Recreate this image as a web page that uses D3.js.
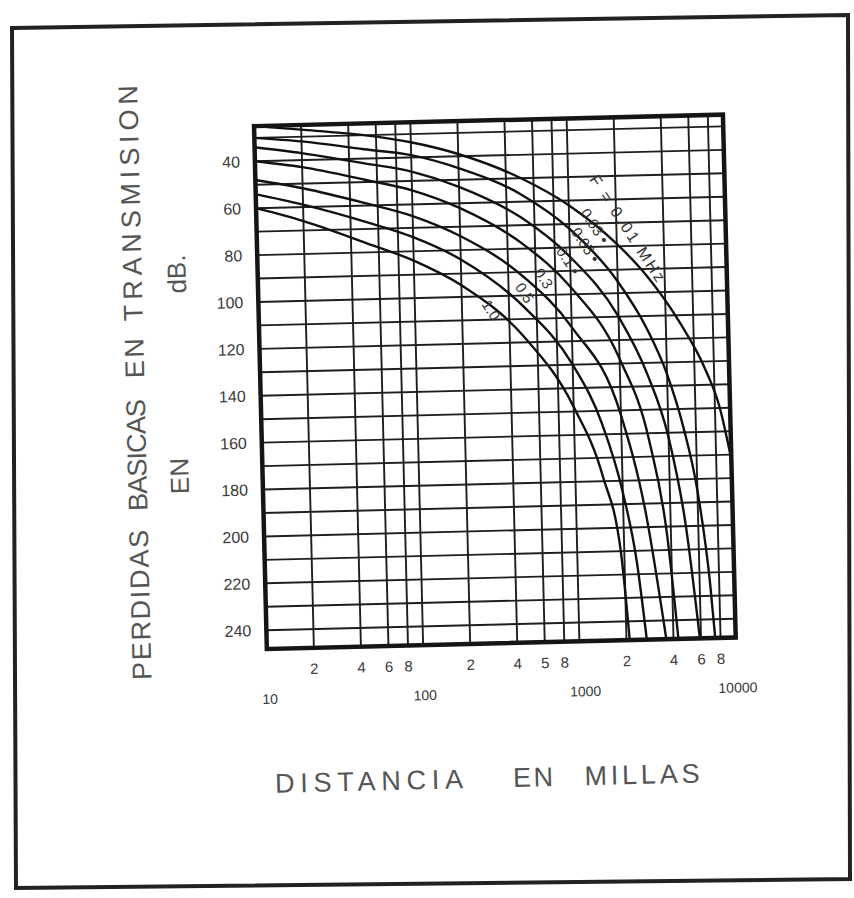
<!DOCTYPE html>
<html><head><meta charset="utf-8">
<script src="https://cdn.jsdelivr.net/npm/d3@7/dist/d3.min.js"></script>
<style>body{margin:0;background:#fff}</style>
</head><body>
<svg id="chart" width="854" height="898"></svg>
<script>
// ---- data ----
const yTickValues = [40, 60, 80, 100, 120, 140, 160, 180, 200, 220, 240];
const yGridValues = [30, 40, 50, 60, 70, 80, 90, 100, 110, 120, 130, 140, 150, 160, 170, 180, 190, 200, 210, 220, 230, 240];
const xDecadeValues = [10, 100, 1000, 10000];
const xDecadeLabels = ["10", "100", "1000", "10000"];
const xMinorValues = [20, 40, 60, 80, 200, 400, 600, 800, 2000, 4000, 6000, 8000];
const xMinorLabels = ["2", "4", "6", "8", "2", "4", "5", "8", "2", "4", "6", "8"];
const xGridValues = [20, 40, 60, 80, 100, 200, 400, 600, 800, 1000, 2000, 4000, 6000, 8000];

const curveNames = ["F = 0.01 MHz", "0.03 \u2022", "0.05 \u2022", "0.1 \u2022", "0.3", "0.5", "1.0"];
const distF001 = [10, 20, 50, 100, 200, 500, 1000, 2000, 3000, 5000, 7000, 8600, 10000];
const lossF001 = [25, 27, 30, 33.5, 39, 50, 62, 79, 92, 114, 133, 150, 172];
const distF003 = [10, 20, 50, 100, 200, 500, 1000, 2000, 3000, 4000, 5000, 6000, 7000, 7400];
const lossF003 = [30, 32, 36, 39, 45, 57, 72, 95, 115, 135, 158, 185, 225, 248];
const distF005 = [10, 20, 50, 100, 200, 500, 1000, 2000, 3000, 4000, 5000, 5900];
const lossF005 = [34, 37, 42, 46, 53, 67, 84, 110, 135, 162, 200, 248];
const distF01 = [10, 20, 50, 100, 200, 500, 1000, 2000, 3000, 3800, 4300];
const lossF01 = [40, 43, 49, 54, 62, 78, 97, 128, 163, 205, 248];
const distF03 = [10, 20, 50, 100, 200, 500, 1000, 2000, 2800, 3600];
const lossF03 = [48, 52, 59, 65, 74, 92, 114, 152, 195, 248];
const distF05 = [10, 20, 50, 100, 200, 500, 1000, 1500, 2000, 2400, 2700];
const lossF05 = [54, 59, 67, 74, 84, 105, 130, 155, 185, 215, 248];
const distF1 = [10, 20, 50, 100, 200, 500, 1000, 1500, 1900, 2100];
const lossF1 = [60, 66, 76, 84, 95, 118, 148, 178, 210, 248];
const curveDists = [distF001, distF003, distF005, distF01, distF03, distF05, distF1];
const curveLosses = [lossF001, lossF003, lossF005, lossF01, lossF03, lossF05, lossF1];
// label anchors (distance, loss) along each curve
const labelDist = [1300, 1130, 980, 780, 560, 420, 255];
const labelLoss = [52, 66, 74, 82, 91, 97, 104];

// ---- layout ----
const svg = d3.select("#chart");
const X0 = 262, X1 = 731, Y0 = 122, Y1 = 645;
const x = d3.scaleLog().domain([10, 10000]).range([X0, X1]);
const y = d3.scaleLinear().domain([25, 248]).range([Y0, Y1]);
const ink = "#1e1e1e";
const tf = "Liberation Sans, Arial, sans-serif";

// outer frame (scanned page border)
svg.append("path")
  .attr("d", "M12,28 L848,15 L850,879 L16,888 Z")
  .attr("fill", "none").attr("stroke", "#222").attr("stroke-width", 4);

const g = svg.append("g").attr("transform", "rotate(-1.4 427 449)");

g.append("clipPath").attr("id", "plotclip")
  .append("rect").attr("x", X0).attr("y", Y0).attr("width", X1 - X0).attr("height", Y1 - Y0);

// grid
const grid = g.append("g").attr("stroke", ink).attr("stroke-width", 1.9);
grid.selectAll("line.h").data(yGridValues).join("line")
  .attr("x1", X0).attr("x2", X1).attr("y1", d => y(d)).attr("y2", d => y(d));
grid.selectAll("line.v").data(xGridValues).join("line")
  .attr("y1", Y0).attr("y2", Y1).attr("x1", d => x(d)).attr("x2", d => x(d));

// curves
const line = d3.line().x(d => x(d[0])).y(d => y(d[1])).curve(d3.curveMonotoneX);
const curves = g.append("g").attr("clip-path", "url(#plotclip)");
curveDists.forEach((ds, i) => {
  const pts = ds.map((d, j) => [d, curveLosses[i][j]]);
  curves.append("path").attr("d", line(pts))
    .attr("fill", "none").attr("stroke", "#111").attr("stroke-width", 2.4);
});

// border
g.append("rect").attr("x", X0).attr("y", Y0).attr("width", X1 - X0).attr("height", Y1 - Y0)
  .attr("fill", "none").attr("stroke", "#151515").attr("stroke-width", 4.5);

// curve labels
curveNames.forEach((name, i) => {
  const px = x(labelDist[i]), py = y(labelLoss[i]);
  const t = g.append("text").attr("transform", `translate(${px},${py}) rotate(58)`)
    .attr("font-family", tf).attr("font-size", i === 0 ? 16 : 15)
    .attr("fill", "#333").attr("dy", "-0.2em").text(name);
  if (i === 0) t.attr("textLength", 124).attr("lengthAdjust", "spacing");
});

// y tick labels
g.selectAll("text.yt").data(yTickValues).join("text")
  .attr("x", X0 - 15).attr("y", d => y(d)).attr("dy", "0.36em")
  .attr("text-anchor", "end").attr("font-family", tf).attr("font-size", 16)
  .attr("fill", "#3a3a3a").text(d => d);

// x tick labels
g.selectAll("text.xm").data(xMinorValues).join("text")
  .attr("x", d => x(d)).attr("y", Y1 + 26)
  .attr("text-anchor", "middle").attr("font-family", tf).attr("font-size", 15)
  .attr("fill", "#3a3a3a").text((d, i) => xMinorLabels[i]);
g.selectAll("text.xd").data(xDecadeValues).join("text")
  .attr("x", (d, i) => x(d) + (i === 0 ? 2 : (i === 2 ? 5 : 1))).attr("y", Y1 + 55)
  .attr("text-anchor", "middle").attr("font-family", tf).attr("font-size", 14)
  .attr("fill", "#3a3a3a").text((d, i) => xDecadeLabels[i]);

// axis titles
const yTitleWords = ["PERDIDAS", "BASICAS", "EN", "TRANSMISION"];
const yTitleCenters = [598, 448, 351, 196];
const yTitleLengths = [150, 112, 40, 236];
yTitleWords.forEach((w, i) => {
  g.append("text").attr("transform", `translate(146,${yTitleCenters[i]}) rotate(-90)`)
    .attr("text-anchor", "middle").attr("font-family", tf).attr("font-size", 27)
    .attr("fill", "#555").attr("textLength", yTitleLengths[i]).attr("lengthAdjust", "spacing")
    .text(w);
});
g.append("text").attr("transform", "translate(188,470) rotate(-90)")
  .attr("text-anchor", "middle").attr("font-family", tf).attr("font-size", 26)
  .attr("fill", "#555").text("EN");
g.append("text").attr("transform", "translate(190,268) rotate(-90)")
  .attr("text-anchor", "middle").attr("font-family", tf).attr("font-size", 26)
  .attr("fill", "#555").text("dB.");

const xTitleWords = ["DISTANCIA", "EN", "MILLAS"];
const xTitleCenters = [361, 525, 634];
const xTitleLengths = [188, 40, 115];
xTitleWords.forEach((w, i) => {
  g.append("text").attr("x", xTitleCenters[i]).attr("y", 789)
    .attr("text-anchor", "middle").attr("font-family", tf).attr("font-size", 27)
    .attr("fill", "#555").attr("textLength", xTitleLengths[i]).attr("lengthAdjust", "spacing")
    .text(w);
});
</script>
</body></html>
